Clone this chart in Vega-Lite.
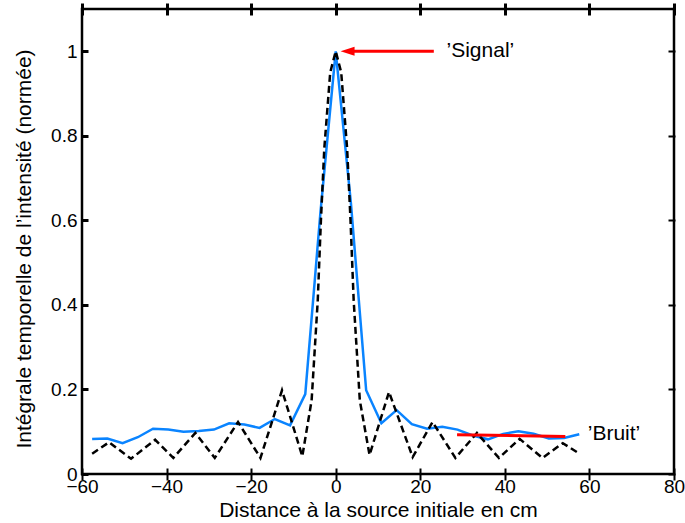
{
  "$schema": "https://vega.github.io/schema/vega-lite/v6.json",
  "width": 592,
  "height": 465,
  "autosize": {"type": "none"},
  "padding": {"left": 82, "top": 9, "right": 11, "bottom": 49},
  "background": "white",
  "config": {
    "font": "Liberation Sans",
    "view": {"stroke": "black", "strokeWidth": 2.5},
    "axis": {
      "grid": false,
      "ticks": true,
      "domain": false,
      "offset": -6,
      "tickColor": "black",
      "tickOpacity": 1,
      "labelFont": "Liberation Sans",
      "labelFontSize": 19,
      "labelColor": "black",
      "titleFont": "Liberation Sans",
      "titleFontSize": 21,
      "titleFontWeight": "normal",
      "titleColor": "black"
    }
  },
  "data": {"values": [
    {"s": "blue", "d": -57.6, "v": 0.083}, {"s": "blue", "d": -54, "v": 0.084}, {"s": "blue", "d": -50.4, "v": 0.073}, {"s": "blue", "d": -46.8, "v": 0.087},
    {"s": "blue", "d": -43.2, "v": 0.107}, {"s": "blue", "d": -39.6, "v": 0.105}, {"s": "blue", "d": -36, "v": 0.100}, {"s": "blue", "d": -32.4, "v": 0.102},
    {"s": "blue", "d": -28.8, "v": 0.105}, {"s": "blue", "d": -25.2, "v": 0.120}, {"s": "blue", "d": -21.6, "v": 0.117}, {"s": "blue", "d": -18, "v": 0.109},
    {"s": "blue", "d": -14.4, "v": 0.130}, {"s": "blue", "d": -10.8, "v": 0.115}, {"s": "blue", "d": -7.2, "v": 0.189}, {"s": "blue", "d": -3.6, "v": 0.62},
    {"s": "blue", "d": 0, "v": 1.0}, {"s": "blue", "d": 3.6, "v": 0.64}, {"s": "blue", "d": 7.2, "v": 0.198}, {"s": "blue", "d": 10.8, "v": 0.120},
    {"s": "blue", "d": 14.4, "v": 0.151}, {"s": "blue", "d": 18, "v": 0.118}, {"s": "blue", "d": 21.6, "v": 0.107}, {"s": "blue", "d": 25.2, "v": 0.112},
    {"s": "blue", "d": 28.8, "v": 0.105}, {"s": "blue", "d": 32.4, "v": 0.091}, {"s": "blue", "d": 36, "v": 0.082}, {"s": "blue", "d": 39.6, "v": 0.095},
    {"s": "blue", "d": 43.2, "v": 0.101}, {"s": "blue", "d": 46.8, "v": 0.095}, {"s": "blue", "d": 50.4, "v": 0.084}, {"s": "blue", "d": 54, "v": 0.085},
    {"s": "blue", "d": 57.6, "v": 0.094},
    {"s": "dash", "d": -57.6, "v": 0.048}, {"s": "dash", "d": -53.6, "v": 0.075}, {"s": "dash", "d": -48.4, "v": 0.036}, {"s": "dash", "d": -42.7, "v": 0.081},
    {"s": "dash", "d": -38.4, "v": 0.038}, {"s": "dash", "d": -33.2, "v": 0.097}, {"s": "dash", "d": -28.6, "v": 0.038}, {"s": "dash", "d": -23.1, "v": 0.123},
    {"s": "dash", "d": -17.8, "v": 0.038}, {"s": "dash", "d": -12.7, "v": 0.198}, {"s": "dash", "d": -7.9, "v": 0.042}, {"s": "dash", "d": -5.7, "v": 0.174},
    {"s": "dash", "d": -4.25, "v": 0.41}, {"s": "dash", "d": -3.5, "v": 0.6}, {"s": "dash", "d": -2.7, "v": 0.77}, {"s": "dash", "d": -1.3, "v": 0.95},
    {"s": "dash", "d": 0, "v": 1.0}, {"s": "dash", "d": 1.3, "v": 0.95}, {"s": "dash", "d": 2.7, "v": 0.77}, {"s": "dash", "d": 3.5, "v": 0.6},
    {"s": "dash", "d": 4.25, "v": 0.41}, {"s": "dash", "d": 5.7, "v": 0.174}, {"s": "dash", "d": 8.0, "v": 0.045}, {"s": "dash", "d": 12.6, "v": 0.194},
    {"s": "dash", "d": 18.2, "v": 0.040}, {"s": "dash", "d": 22.9, "v": 0.123}, {"s": "dash", "d": 28.3, "v": 0.038}, {"s": "dash", "d": 33.4, "v": 0.097},
    {"s": "dash", "d": 38.6, "v": 0.038}, {"s": "dash", "d": 43.5, "v": 0.083}, {"s": "dash", "d": 48.9, "v": 0.038}, {"s": "dash", "d": 53.7, "v": 0.073},
    {"s": "dash", "d": 57.5, "v": 0.049},
    {"s": "noise", "d": 28.7, "v": 0.093}, {"s": "noise", "d": 54.3, "v": 0.089},
    {"s": "arrow", "d": 2.8, "v": 1.0}, {"s": "arrow", "d": 23.2, "v": 1.0},
    {"s": "head", "d": 2.8, "v": 1.0},
    {"s": "label", "d": 26.2, "v": 1.0, "t": "’Signal’"},
    {"s": "label", "d": 59.6, "v": 0.095, "t": "’Bruit’"}
  ]},
  "resolve": {"axis": {"x": "independent", "y": "independent"}},
  "layer": [
    {
      "transform": [{"filter": "datum.s === 'blue'"}],
      "mark": {"type": "line", "color": "#0A84FF", "strokeWidth": 2.5},
      "encoding": {
        "x": {"field": "d", "type": "quantitative",
              "scale": {"domain": [-60, 80], "nice": false, "zero": false},
              "axis": {"orient": "bottom", "tickSize": 12, "tickWidth": 2, "values": [-60, -40, -20, 0, 20, 40, 60, 80], "title": "Distance à la source initiale en cm", "labelPadding": -3, "titlePadding": 3, "labelFlush": false}},
        "y": {"field": "v", "type": "quantitative",
              "scale": {"domain": [0, 1.1], "nice": false},
              "axis": {"orient": "left", "tickSize": 7, "tickWidth": 3, "values": [0, 0.2, 0.4, 0.6, 0.8, 1], "format": "~g", "title": "Intégrale temporelle de l’intensité (normée)", "labelPadding": 4, "titlePadding": 16, "titleY": 239.5}}
      }
    },
    {
      "transform": [{"filter": "datum.s === 'dash'"}],
      "mark": {"type": "line", "color": "black", "strokeWidth": 2.5, "strokeDash": [7, 4]},
      "encoding": {
        "x": {"field": "d", "type": "quantitative",
              "axis": {"orient": "top", "tickSize": 12, "tickWidth": 3, "values": [-60, -40, -20, 0, 20, 40, 60, 80], "labels": false, "title": null}},
        "y": {"field": "v", "type": "quantitative",
              "axis": {"orient": "right", "tickSize": 7, "tickWidth": 2, "values": [0, 0.2, 0.4, 0.6, 0.8, 1], "labels": false, "title": null}}
      }
    },
    {
      "transform": [{"filter": "datum.s === 'noise' || datum.s === 'arrow'"}],
      "mark": {"type": "line", "color": "#FF0000", "strokeWidth": 3},
      "encoding": {
        "x": {"field": "d", "type": "quantitative", "axis": null},
        "y": {"field": "v", "type": "quantitative", "axis": null},
        "detail": {"field": "s"}
      }
    },
    {
      "transform": [{"filter": "datum.s === 'head'"}],
      "mark": {"type": "point", "filled": true, "color": "#FF0000", "opacity": 1, "shape": "M1,-0.65L-1,0L1,0.65Z", "size": 196},
      "encoding": {
        "x": {"field": "d", "type": "quantitative", "axis": null},
        "y": {"field": "v", "type": "quantitative", "axis": null}
      }
    },
    {
      "transform": [{"filter": "datum.s === 'label'"}],
      "mark": {"type": "text", "align": "left", "baseline": "middle", "fontSize": 21, "font": "Liberation Sans", "color": "black"},
      "encoding": {
        "x": {"field": "d", "type": "quantitative", "axis": null},
        "y": {"field": "v", "type": "quantitative", "axis": null},
        "text": {"field": "t"}
      }
    }
  ]
}
